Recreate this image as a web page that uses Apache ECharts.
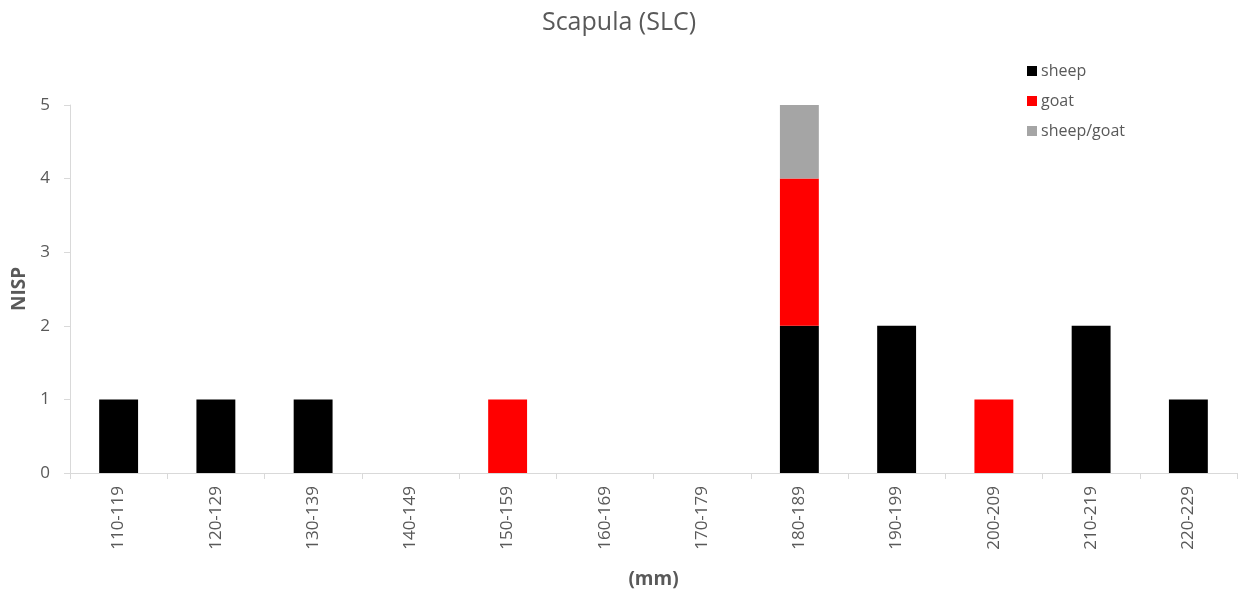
<!DOCTYPE html>
<html>
<head>
<meta charset="utf-8">
<script src="https://cdn.jsdelivr.net/npm/echarts@6/dist/echarts.min.js"></script>
<style>
  html, body { margin: 0; padding: 0; background: #fff; }
  #chart { width: 1238px; height: 594px; }
</style>
</head>
<body>
<div id="chart"></div>
<script>
// Size classes of scapula SLC measurements (mm)
const categories = ['110-119', '120-129', '130-139', '140-149', '150-159', '160-169',
                    '170-179', '180-189', '190-199', '200-209', '210-219', '220-229'];
// Number of identified specimens per class
const sheep      = [1, 1, 1, 0, 0, 0, 0, 2, 2, 0, 2, 1];
const goat       = [0, 0, 0, 0, 1, 0, 0, 2, 0, 1, 0, 0];
const sheepGoat  = [0, 0, 0, 0, 0, 0, 0, 1, 0, 0, 0, 0];
const yTicks     = [0, 1, 2, 3, 4, 5];

const FONT = 'Open Sans';
const TEXT = '#595959';
const AXIS = '#d9d9d9';

const chart = echarts.init(document.getElementById('chart'), null, { renderer: 'canvas' });

function barSeries(name, data, color) {
  return {
    name: name,
    type: 'bar',
    stack: 'nisp',
    data: data,
    barWidth: '40%',
    itemStyle: { color: color },
    emphasis: { disabled: true }
  };
}

chart.setOption({
  animation: false,
  textStyle: { fontFamily: FONT },
  title: {
    text: 'Scapula (SLC)',
    left: 'center',
    top: 5,
    textStyle: { fontFamily: FONT, fontSize: 25, fontWeight: 'normal', color: TEXT }
  },
  legend: {
    orient: 'vertical',
    left: 1027,
    top: 63,
    padding: 0,
    itemWidth: 10,
    itemHeight: 10,
    itemGap: 14,
    icon: 'rect',
    textStyle: { fontFamily: FONT, fontSize: 16, color: TEXT, padding: [0, 0, 0, -1] },
    data: ['sheep', 'goat', 'sheep/goat']
  },
  grid: {
    left: 70, right: 1, top: 105, bottom: 121,
    containLabel: false,
    outerBoundsMode: 'none'
  },
  xAxis: {
    type: 'category',
    data: categories,
    name: '(mm)',
    nameLocation: 'middle',
    nameGap: 97,
    nameTextStyle: { fontFamily: FONT, fontSize: 19, fontWeight: 'bold', color: TEXT },
    axisLine: { lineStyle: { color: AXIS, width: 1 } },
    axisTick: { show: true, length: 6, lineStyle: { color: AXIS } },
    axisLabel: { rotate: 90, fontFamily: FONT, fontSize: 17, color: TEXT, margin: 13 }
  },
  yAxis: {
    type: 'value',
    min: yTicks[0],
    max: yTicks[yTicks.length - 1],
    interval: 1,
    name: 'NISP',
    nameLocation: 'middle',
    nameGap: 39,
    nameRotate: 90,
    nameTextStyle: { fontFamily: FONT, fontSize: 19, fontWeight: 'bold', color: TEXT },
    axisLine: { show: true, lineStyle: { color: AXIS, width: 1 } },
    axisTick: { show: true, length: 6, lineStyle: { color: AXIS } },
    splitLine: { show: false },
    axisLabel: { fontFamily: FONT, fontSize: 17, color: TEXT, margin: 20 }
  },
  series: [
    barSeries('sheep', sheep, '#000000'),
    barSeries('goat', goat, '#ff0000'),
    barSeries('sheep/goat', sheepGoat, '#a5a5a5')
  ]
});
</script>
</body>
</html>
